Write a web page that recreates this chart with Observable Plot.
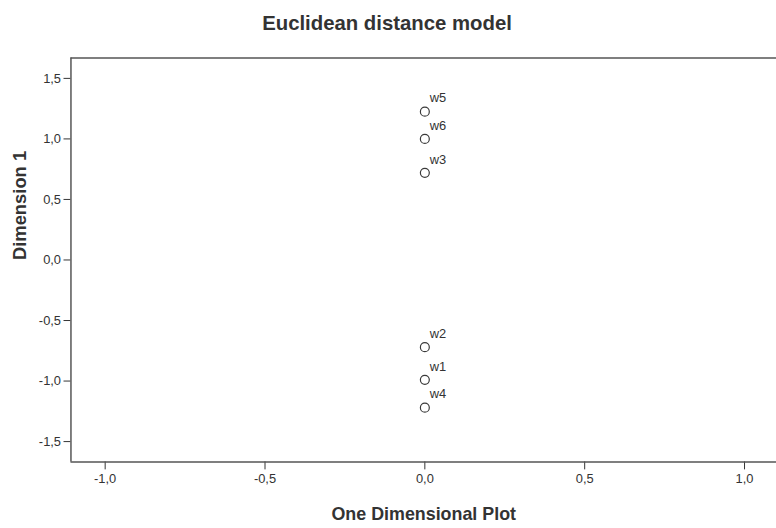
<!DOCTYPE html>
<html>
<head>
<meta charset="utf-8">
<script src="https://cdn.jsdelivr.net/npm/d3@7"></script>
<script src="https://cdn.jsdelivr.net/npm/@observablehq/plot@0.6"></script>
<style>
  html, body { margin: 0; padding: 0; background: #fff; overflow: hidden; }
  #wrap { width: 776px; height: 528px; overflow: hidden; }
</style>
</head>
<body>
<div id="wrap"></div>
<script>
const labels = ["w5", "w6", "w3", "w2", "w1", "w4"];
const dimension1 = [1.225, 1.0, 0.72, -0.72, -0.99, -1.22];
const onePlot = [0, 0, 0, 0, 0, 0];
const xTicks = [-1, -0.5, 0, 0.5, 1];
const yTicks = [-1.5, -1, -0.5, 0, 0.5, 1, 1.5];
const titleText = "Euclidean distance model";
const xLabel = "One Dimensional Plot";
const yLabel = "Dimension 1";

const data = labels.map((l, i) => ({label: l, x: onePlot[i], y: dimension1[i]}));
const fmt = d => d.toFixed(1).replace(".", ",");
const xDomain = [-1.107, 1.1];
const yDomain = [-1.668, 1.668];
const font = "'Liberation Sans', Arial, sans-serif";

const chart = Plot.plot({
  width: 782,
  height: 528,
  marginLeft: 71,
  marginRight: 0,
  marginTop: 58,
  marginBottom: 63,
  style: {fontFamily: font, fontSize: "13px", color: "#333", background: "#fff"},
  x: {domain: xDomain, ticks: xTicks, tickFormat: fmt, tickSize: 8, tickPadding: 4, label: null},
  y: {domain: yDomain, ticks: yTicks, tickFormat: fmt, tickSize: 7, tickPadding: 3, label: null},
  marks: [
    Plot.ruleY([yDomain[0], yDomain[1]], {stroke: "#555", strokeWidth: 1.5}),
    Plot.ruleX([xDomain[0]], {stroke: "#555", strokeWidth: 1.5}),
    Plot.dot(data, {x: "x", y: "y", r: 4.5, stroke: "#3a3a3a", strokeWidth: 1.2, fill: "none"}),
    Plot.text(data, {x: "x", y: "y", text: "label", textAnchor: "start", dx: 5, dy: -13.5, fill: "#333", fontSize: 13}),
    Plot.text([titleText], {frameAnchor: "top", dx: -37, dy: -35, fontSize: 20.5, fontWeight: "bold", fill: "#333", lineAnchor: "middle"}),
    Plot.text([xLabel], {frameAnchor: "bottom", dy: 53, fontSize: 18, fontWeight: "bold", fill: "#333", lineAnchor: "middle"}),
    Plot.text([yLabel], {frameAnchor: "left", dx: -51.5, rotate: -90, fontSize: 18.5, fontWeight: "bold", fill: "#333", lineAnchor: "middle"})
  ]
});
document.getElementById("wrap").appendChild(chart);
</script>
</body>
</html>
